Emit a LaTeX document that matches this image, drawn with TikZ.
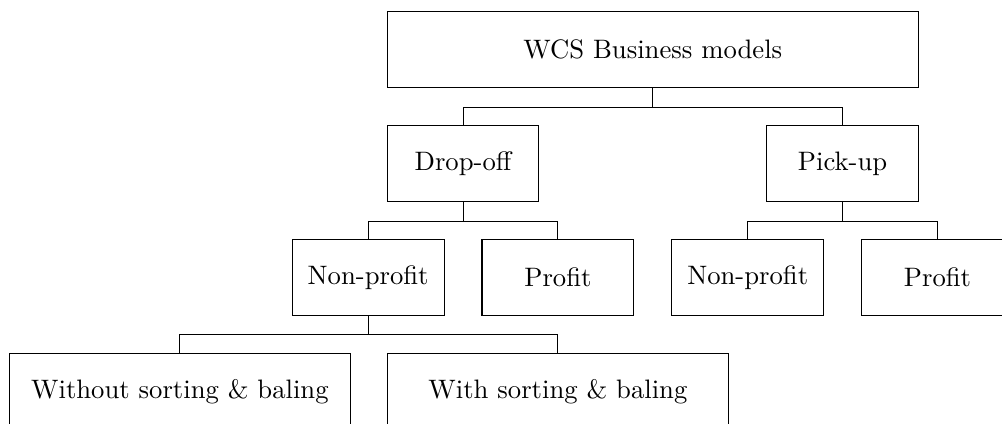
\documentclass[tikz,border=0pt]{standalone}
\begin{document}
\begin{tikzpicture}[
  box/.style={draw, minimum height=1cm, minimum width=2cm, align=center},
  wide/.style={box, minimum width=4.5cm},
  conn/.style={draw, line width=0.4pt}
]
\useasboundingbox (0,0) rectangle (13.2,-5.573);
\node[box, minimum width=7cm] (root) at (8.6,-0.655) {WCS Business models};
\node[box] (drop) at (6.1,-2.155) {Drop-off};
\node[box] (pick) at (11.1,-2.155) {Pick-up};
\node[box] (dnp) at (4.85,-3.655) {Non-profit};
\node[box] (dp) at (7.35,-3.655) {Profit};
\node[box] (pnp) at (9.85,-3.655) {Non-profit};
\node[box] (pp) at (12.35,-3.655) {Profit};
\node[wide] (wo) at (2.37,-5.155) {Without sorting \& baling};
\node[wide] (wi) at (7.35,-5.155) {With sorting \& baling};
\foreach \p/\c in {root/drop, root/pick, drop/dnp, drop/dp, pick/pnp, pick/pp, dnp/wo, dnp/wi}
  \draw[conn] (\p.south) -- ++(0,-0.25) -| (\c.north);
\end{tikzpicture}
\end{document}
